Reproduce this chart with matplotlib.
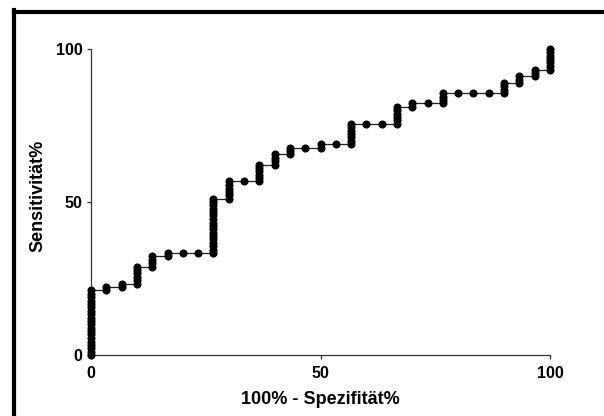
import matplotlib
matplotlib.use("Agg")
import matplotlib.pyplot as plt
from matplotlib.lines import Line2D

# 100% - specificity of each step (30 controls)
fpr_steps = [0, 3.33, 6.67, 10, 13.33, 16.67, 20, 23.33, 26.67, 30,
             33.33, 36.67, 40, 43.33, 46.67, 50, 53.33, 56.67, 60, 63.33,
             66.67, 70, 73.33, 76.67, 80, 83.33, 86.67, 90, 93.33, 96.67, 100]

# sensitivity points stacked at each step
sens_columns = [
    [0, 1.1, 2.2, 3.3, 4.4, 5.6, 6.7, 7.8, 8.9, 10, 11.1, 12.2, 13.3, 14.4,
     15.6, 16.7, 17.8, 18.9, 20, 21.1],
    [21.1, 22.2],
    [22.2, 23.3],
    [23.3, 24.4, 25.6, 26.7, 27.8, 28.9],
    [28.9, 30, 31.1, 32.2],
    [32.2, 33.3],
    [33.3],
    [33.3],
    [33.3, 34.4, 35.6, 36.7, 37.8, 38.9, 40, 41.1, 42.2, 43.3, 44.4, 45.6,
     46.7, 47.8, 48.9, 50, 51.1],
    [51.1, 52.2, 53.3, 54.4, 55.6, 56.7],
    [56.7],
    [56.7, 57.8, 58.9, 60, 61.1, 62.2],
    [62.2, 63.3, 64.4, 65.6],
    [65.6, 66.7, 67.8],
    [67.8],
    [67.8, 68.9],
    [68.9],
    [68.9, 70, 71.1, 72.2, 73.3, 74.4, 75.6],
    [75.6],
    [75.6],
    [75.6, 76.7, 77.8, 78.9, 80, 81.1],
    [81.1, 82.2],
    [82.2],
    [82.2, 83.3, 84.4, 85.6],
    [85.6],
    [85.6],
    [85.6],
    [85.6, 86.7, 87.8, 88.9],
    [88.9, 90, 91.1],
    [91.1, 92.2, 93.3],
    [93.3, 94.4, 95.6, 96.7, 97.8, 98.9, 100],
]

xs = []
ys = []
for fx, col in zip(fpr_steps, sens_columns):
    for s in col:
        xs.append(fx)
        ys.append(s)

plt.rcParams['font.family'] = ['Liberation Sans', 'DejaVu Sans']
plt.rcParams['font.weight'] = 'bold'

fig = plt.figure(figsize=(6.04, 4.16), dpi=100)
ax = fig.add_axes([91/604, 1-355/416, 459/604, 306/416])

ax.plot(xs, ys, color="#222222", linewidth=0.9, marker="o", markersize=4.8,
        markerfacecolor="black", markeredgecolor="black", clip_on=False, zorder=3)

ax.set_xlim(0, 100)
ax.set_ylim(0, 100)
ax.set_xticks([0, 50, 100])
ax.set_yticks([0, 50, 100])
ax.tick_params(direction="out", length=3, width=0.9, color="#333333",
               labelsize=11.5, pad=3)
ax.tick_params(axis="x", pad=5)
for lab in ax.get_xticklabels() + ax.get_yticklabels():
    lab.set_fontweight("bold")
for side in ["top", "right"]:
    ax.spines[side].set_visible(False)
for side in ["left", "bottom"]:
    ax.spines[side].set_linewidth(0.9)
    ax.spines[side].set_color("#333333")

ax.set_xlabel("100% - Spezifität%", fontsize=13, fontweight="bold", va="center")
ax.set_ylabel("Sensitivität%", fontsize=13, fontweight="bold", va="center")
ax.xaxis.set_label_coords(0.5, (355-399)/306)
ax.yaxis.set_label_coords((38-91)/459, 0.52)

# thick black frame (only left and top edges are inside the image)
fig.add_artist(Line2D([13.5/604, 13.5/604], [0, 1-9.5/416], transform=fig.transFigure,
                      color="black", linewidth=3.0, solid_capstyle="projecting"))
fig.add_artist(Line2D([13.5/604, 1], [1-11.5/416, 1-11.5/416], transform=fig.transFigure,
                      color="black", linewidth=3.0, solid_capstyle="projecting"))

fig.savefig("out.png", dpi=100)
